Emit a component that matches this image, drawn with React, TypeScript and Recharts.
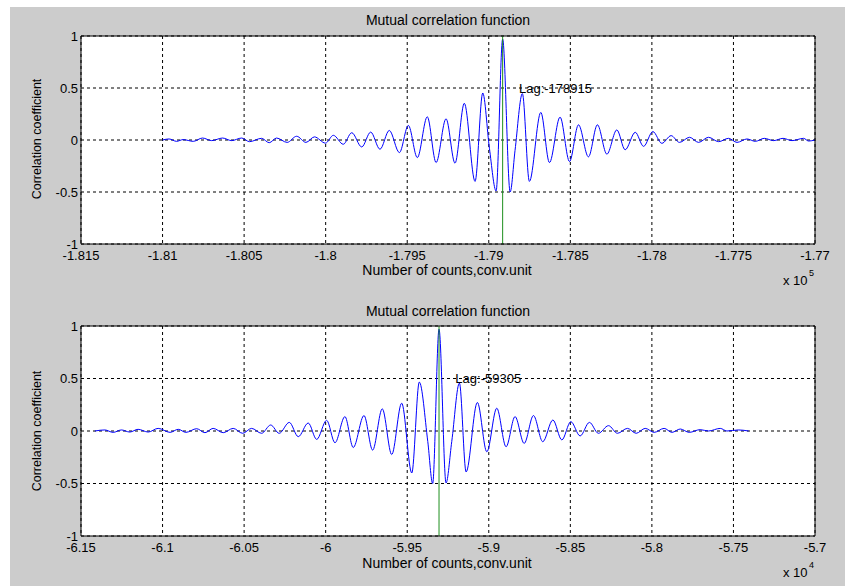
import React from 'react';
import { LineChart, Line, XAxis, YAxis, CartesianGrid, ReferenceLine, ReferenceDot } from 'recharts';

// ---- data ----
const topLags = [-181000, -180960, -180914, -180874, -180812, -180755, -180699, -180632, -180577, -180515, -180467, -180393, -180346, -180301, -180236, -180178, -180121, -180069, -180001, -179953, -179892, -179840, -179779, -179724, -179667, -179610, -179548, -179493, -179438, -179377, -179323, -179262, -179207, -179150, -179084, -179037, -178996, -178955, -178915, -178869, -178839, -178794, -178751, -178681, -178628, -178563, -178505, -178450, -178389, -178334, -178276, -178215, -178164, -178102, -178051, -177994, -177939, -177882, -177831, -177769, -177714, -177653, -177591, -177530, -177478, -177417, -177366, -177311, -177254, -177196, -177141, -177070, -177039, -177000];
const topCoef = [0, 0.01, -0.013, 0.004, -0.013, 0.019, -0.006, 0.019, -0.006, 0.019, -0.016, 0.016, -0.026, 0.019, -0.023, 0.036, -0.023, 0.03, -0.03, 0.045, -0.041, 0.07, -0.067, 0.076, -0.089, 0.092, -0.121, 0.14, -0.169, 0.223, -0.217, 0.204, -0.223, 0.353, -0.398, 0.452, -0.08, -0.49, 0.97, -0.5, -0.1, 0.446, -0.398, 0.265, -0.217, 0.22, -0.207, 0.146, -0.162, 0.146, -0.136, 0.097, -0.094, 0.074, -0.061, 0.081, -0.032, 0.042, -0.023, 0.026, -0.023, 0.026, -0.016, 0.016, -0.023, 0.01, -0.013, 0.016, -0.006, 0.016, -0.006, 0.016, -0.01, 0];

const bottomLags = [-61415, -61354, -61303, -61252, -61201, -61150, -61088, -61027, -60954, -60904, -60857, -60791, -60740, -60690, -60628, -60567, -60509, -60454, -60393, -60337, -60285, -60223, -60168, -60107, -60055, -59994, -59943, -59882, -59831, -59765, -59712, -59653, -59595, -59534, -59472, -59426, -59374, -59344, -59305, -59262, -59227, -59180, -59139, -59070, -59012, -58951, -58894, -58839, -58783, -58726, -58669, -58607, -58552, -58497, -58440, -58383, -58328, -58266, -58211, -58150, -58096, -58041, -57986, -57925, -57877, -57826, -57771, -57704, -57653, -57581, -57540, -57469, -57407];
const bottomCoef = [0, 0.01, -0.013, 0.01, -0.01, 0.016, -0.01, 0.025, -0.013, 0.016, -0.013, 0.022, -0.016, 0.025, -0.016, 0.025, -0.022, 0.025, -0.022, 0.057, -0.022, 0.082, -0.054, 0.076, -0.08, 0.102, -0.112, 0.137, -0.157, 0.147, -0.182, 0.211, -0.224, 0.265, -0.4, 0.466, -0.1, -0.5, 0.97, -0.495, -0.1, 0.457, -0.39, 0.272, -0.198, 0.217, -0.15, 0.137, -0.118, 0.147, -0.102, 0.105, -0.085, 0.089, -0.047, 0.082, -0.022, 0.051, -0.022, 0.025, -0.022, 0.025, -0.013, 0.025, -0.013, 0.019, -0.013, 0.013, 0, 0.025, 0, 0.01, 0];

const topTicks = [-181500, -181000, -180500, -180000, -179500, -179000, -178500, -178000, -177500, -177000];
const topTickLabels = ['-1.815', '-1.81', '-1.805', '-1.8', '-1.795', '-1.79', '-1.785', '-1.78', '-1.775', '-1.77'];
const bottomTicks = [-61500, -61000, -60500, -60000, -59500, -59000, -58500, -58000, -57500, -57000];
const bottomTickLabels = ['-6.15', '-6.1', '-6.05', '-6', '-5.95', '-5.9', '-5.85', '-5.8', '-5.75', '-5.7'];
const yTicks = [-1, -0.5, 0, 0.5, 1];
const yTickLabels = ['-1', '-0.5', '0', '0.5', '1'];

const topLag = -178915;
const bottomLag = -59305;
const topLagText = 'Lag:-178915';
const bottomLagText = 'Lag:-59305';
const titleText = 'Mutual correlation function';
const xLabelText = 'Number of counts,conv.unit';
const yLabelText = 'Correlation coefficient';
const topExponent = '5';
const bottomExponent = '4';

const FONT = '"Liberation Sans", Arial, sans-serif';

type SubProps = {
  lags: number[];
  coef: number[];
  ticks: number[];
  tickLabels: string[];
  lag: number;
  lagText: string;
  top: number;
  marginTop: number;
  marginBottom: number;
};

function Subplot({ lags, coef, ticks, tickLabels, lag, lagText, top, marginTop, marginBottom }: SubProps) {
  const data = lags.map((x, i) => ({ x, y: coef[i] }));
  const domain: [number, number] = [ticks[0], ticks[ticks.length - 1]];
  const fmtX = (v: number) => {
    const i = ticks.indexOf(v);
    return i >= 0 ? tickLabels[i] : String(v);
  };
  const fmtY = (v: number) => {
    const i = yTicks.indexOf(v);
    return i >= 0 ? yTickLabels[i] : String(v);
  };
  const tickStyle = { fontFamily: FONT, fontSize: 13, fill: '#000' };
  return (
    <div style={{ position: 'absolute', left: 0, top }}>
      <LineChart width={845} height={293} data={data} margin={{ top: marginTop, right: 30, bottom: marginBottom, left: 0 }}>
        <CartesianGrid stroke="#000" strokeDasharray="3 3" fill="#ffffff" fillOpacity={1} />
        <XAxis type="number" dataKey="x" domain={domain} ticks={ticks} allowDataOverflow
          tickFormatter={fmtX} tick={tickStyle} axisLine={false} tickLine={false} tickSize={6} tickMargin={1} height={30} />
        <YAxis type="number" domain={[-1, 1]} ticks={yTicks} allowDataOverflow
          tickFormatter={fmtY} tick={tickStyle} axisLine={false} tickLine={false} tickSize={0} tickMargin={3} width={81} />
        <XAxis xAxisId="top" orientation="top" mirror type="number" dataKey="x" domain={domain} ticks={ticks} allowDataOverflow
          tick={false} axisLine={{ stroke: '#000' }} tickLine={{ stroke: '#000' }} tickSize={5} height={1} />
        <XAxis xAxisId="bot" orientation="bottom" mirror type="number" dataKey="x" domain={domain} ticks={ticks} allowDataOverflow
          tick={false} axisLine={{ stroke: '#000' }} tickLine={{ stroke: '#000' }} tickSize={5} height={1} />
        <YAxis yAxisId="right" orientation="right" mirror type="number" domain={[-1, 1]} ticks={yTicks} allowDataOverflow
          tick={false} axisLine={{ stroke: '#000' }} tickLine={{ stroke: '#000' }} tickSize={5} width={1} />
        <YAxis yAxisId="left2" orientation="left" mirror type="number" domain={[-1, 1]} ticks={yTicks} allowDataOverflow
          tick={false} axisLine={{ stroke: '#000' }} tickLine={{ stroke: '#000' }} tickSize={5} width={1} />
        <Line type="monotone" dataKey="y" stroke="#0000ff" strokeWidth={1} dot={false} activeDot={false} isAnimationActive={false} />
        <ReferenceLine x={lag} stroke="#1e8f1e" strokeWidth={1} />
        <ReferenceDot x={lag + 100} y={0.5} r={0} fill="none" stroke="none"
          label={{ value: lagText, position: 'right', offset: 0, fill: '#000', fontSize: 13, fontFamily: FONT }} />
      </LineChart>
    </div>
  );
}

export default function App() {
  const txt = { fontFamily: FONT, fill: '#000' } as const;
  return (
    <div style={{ position: 'absolute', left: 0, top: 0, width: 845, height: 586, background: '#ffffff', overflow: 'hidden' }}>
      <div style={{ position: 'absolute', left: 10, top: 7, width: 835, height: 579, background: '#cccccc' }} />
      <Subplot lags={topLags} coef={topCoef} ticks={topTicks} tickLabels={topTickLabels} lag={topLag} lagText={topLagText}
        top={0} marginTop={36} marginBottom={19} />
      <Subplot lags={bottomLags} coef={bottomCoef} ticks={bottomTicks} tickLabels={bottomTickLabels} lag={bottomLag} lagText={bottomLagText}
        top={293} marginTop={33} marginBottom={20} />
      <svg width={845} height={586} style={{ position: 'absolute', left: 0, top: 0, pointerEvents: 'none' }}>
        <text x={448} y={25} textAnchor="middle" fontSize={14} {...txt}>{titleText}</text>
        <text x={447} y={275} textAnchor="middle" fontSize={14} {...txt}>{xLabelText}</text>
        <text x={783} y={285} fontSize={13} {...txt}>x 10</text>
        <text x={809} y={276} fontSize={9} {...txt}>{topExponent}</text>
        <text x={37} y={139} textAnchor="middle" dominantBaseline="central" fontSize={12.5} transform="rotate(-90 37 139)" {...txt}>{yLabelText}</text>

        <text x={448} y={316} textAnchor="middle" fontSize={14} {...txt}>{titleText}</text>
        <text x={447} y={568} textAnchor="middle" fontSize={14} {...txt}>{xLabelText}</text>
        <text x={783} y={577} fontSize={13} {...txt}>x 10</text>
        <text x={809} y={568} fontSize={9} {...txt}>{bottomExponent}</text>
        <text x={37} y={431} textAnchor="middle" dominantBaseline="central" fontSize={12.5} transform="rotate(-90 37 431)" {...txt}>{yLabelText}</text>
      </svg>
    </div>
  );
}
